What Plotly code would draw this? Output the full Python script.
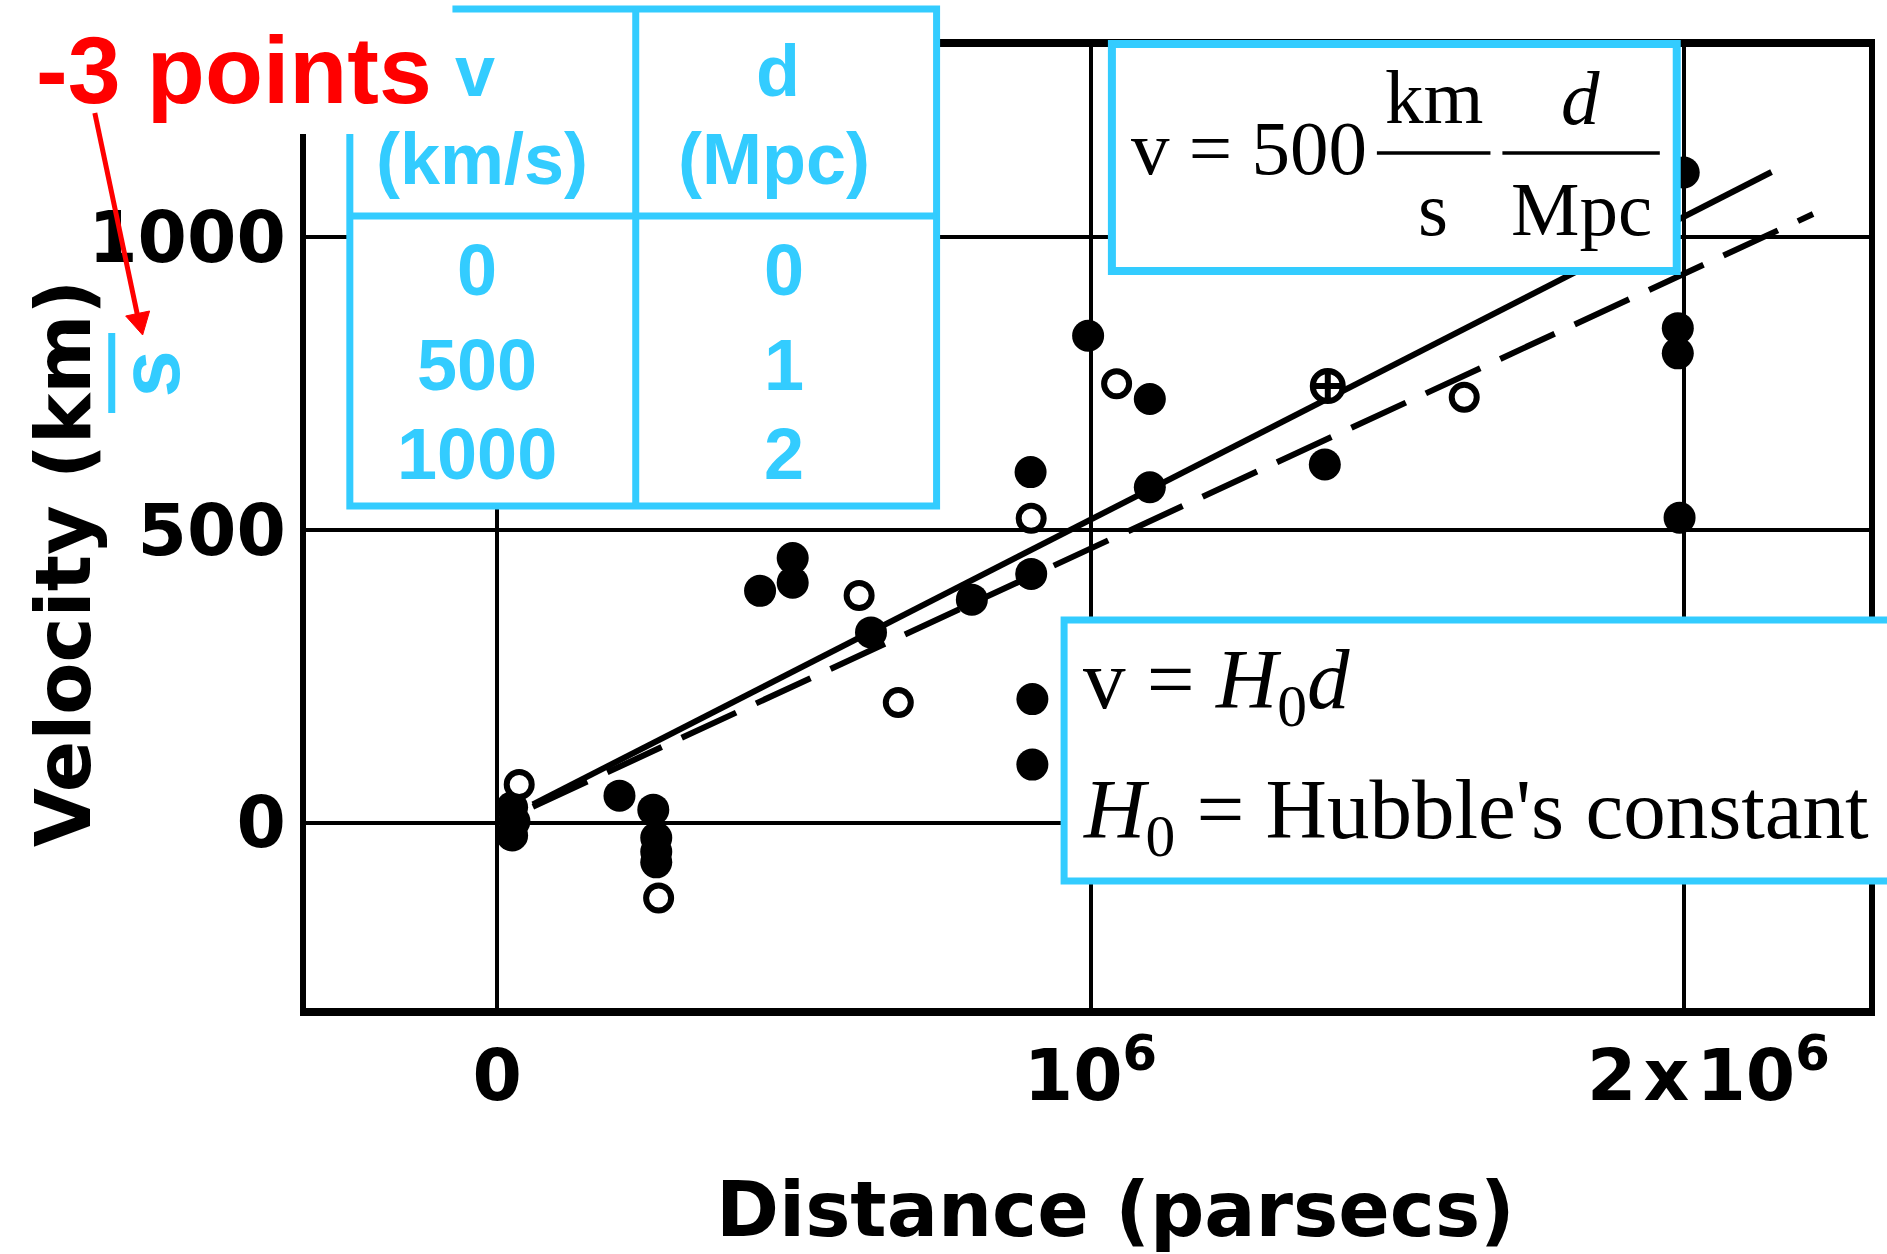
import plotly.graph_objects as go

# Hubble diagram: radial velocity (km/s) against distance (parsecs)
filled_dist = [0.025e6, 0.029e6, 0.025e6, 0.206e6, 0.263e6, 0.268e6, 0.268e6, 0.268e6,
               0.443e6, 0.498e6, 0.498e6, 0.630e6, 0.800e6, 0.899e6, 0.900e6, 0.902e6,
               0.902e6, 0.996e6, 1.100e6, 1.100e6, 1.395e6, 2.000e6, 1.990e6, 1.990e6,
               1.993e6]
filled_vel = [26, 2, -22, 46, 22, -26, -50, -68,
              396, 452, 410, 325, 381, 599, 425, 211,
              99, 832, 724, 573, 612, 1111, 845, 802,
              521]
open_dist = [0.037e6, 0.272e6, 0.610e6, 0.676e6, 0.900e6, 1.044e6, 1.630e6]
open_vel = [65, -129, 388, 205, 520, 750, 727]
cross_dist = [1.400e6]
cross_vel = [746]

solid_fit_dist = [0.06e6, 2.148e6]
solid_fit_vel = [31, 1112]
dashed_fit_dist = [0.06e6, 2.218e6]
dashed_fit_vel = [27, 1040]

x_tick_vals = [0, 1e6, 2e6]
x_tick_text = ["0", "10<sup>6</sup>", "\u00a0\u00a02\u200ax\u200a10<sup>6</sup>"]
y_tick_vals = [0, 500, 1000]
y_tick_text = ["0", "500", "1000"]

table_header = ["v", "d"]
table_units = ["(km/s)", "(Mpc)"]
table_v = ["0", "500", "1000"]
table_d = ["0", "1", "2"]

# ---- page geometry (pixels) ----
W, H = 1887, 1254
L, R, T, B = 306, 1875, 47, 1008
CYAN = "#33CCFF"
SCAN_FONT = "DejaVu Sans"
SANS = "Liberation Sans, Arial, sans-serif"
SERIF = "Liberation Serif, Times New Roman, serif"


def px(x):
    return (x - L) / (R - L)


def py(y):
    return (B - y) / (B - T)


fig = go.Figure()

fig.add_trace(go.Scatter(x=solid_fit_dist, y=solid_fit_vel, mode="lines",
                         line=dict(color="black", width=6), hoverinfo="skip"))
fig.add_trace(go.Scatter(x=dashed_fit_dist, y=dashed_fit_vel, mode="lines",
                         line=dict(color="black", width=6, dash="60px,22px"),
                         hoverinfo="skip"))
fig.add_trace(go.Scatter(x=filled_dist, y=filled_vel, mode="markers",
                         marker=dict(symbol="circle", size=32, color="black",
                                     line=dict(width=0))))
fig.add_trace(go.Scatter(x=open_dist, y=open_vel, mode="markers",
                         marker=dict(symbol="circle", size=25, color="white",
                                     line=dict(width=6, color="black"))))
fig.add_trace(go.Scatter(x=cross_dist, y=cross_vel, mode="markers",
                         marker=dict(symbol="circle-cross", size=30, color="white",
                                     line=dict(width=6, color="black"))))

axis_common = dict(showgrid=True, gridcolor="black", gridwidth=4, zeroline=False,
                   showline=True, linecolor="black", mirror=True, ticks="",
                   fixedrange=True,
                   tickfont=dict(family=SCAN_FONT, size=71, color="black",
                                 weight="bold"))

fig.update_layout(
    width=W, height=H,
    margin=dict(l=L, r=W - R, t=T, b=H - B, pad=0),
    paper_bgcolor="white", plot_bgcolor="white", showlegend=False,
    xaxis=dict(range=[-0.3224e6, 2.3123e6], tickvals=x_tick_vals, ticktext=x_tick_text,
               linewidth=8, ticklabelstandoff=-1, **axis_common),
    yaxis=dict(range=[-317, 1325.6], tickvals=y_tick_vals, ticktext=y_tick_text,
               linewidth=6, ticklabelstandoff=0, **axis_common),
)

shapes = []


def rect(x0, y0, x1, y1, line_color=None, line_width=0, fill="white"):
    shapes.append(dict(type="rect", xref="paper", yref="paper", layer="above",
                       x0=px(x0), x1=px(x1), y0=py(y1), y1=py(y0),
                       fillcolor=fill,
                       line=dict(color=line_color or fill, width=line_width)))


def seg(x0, y0, x1, y1, color, width):
    shapes.append(dict(type="line", xref="paper", yref="paper", layer="above",
                       x0=px(x0), x1=px(x1), y0=py(y0), y1=py(y1),
                       line=dict(color=color, width=width)))


# distance/velocity conversion table
rect(350, 9, 939, 506, CYAN, 7)
seg(637, 9, 637, 506, CYAN, 7)
seg(350, 216, 939, 216, CYAN, 7)
# white patch behind the red note
rect(-10, -10, 453, 134)
# top-right formula box
rect(1115, 44, 1682, 271, CYAN, 8)
seg(1381, 153, 1495, 153, "black", 3.5)
seg(1507, 153, 1665, 153, "black", 3.5)
# Hubble's law box
rect(1067, 620, 1900, 881, CYAN, 7)
# "/s" correction bar on the velocity label
seg(111, 333, 111, 413, CYAN, 7)
# red arrow
seg(94, 113, 137, 316, "red", 5)
head = [(142, 335), (149, 311), (125, 316)]
shapes.append(dict(type="path", xref="paper", yref="paper", layer="above",
                   path="M {} {} L {} {} L {} {} Z".format(
                       *[v for p in head for v in (px(p[0]), py(p[1]))]),
                   fillcolor="red", line=dict(color="red", width=1)))
fig.update_layout(shapes=shapes)


def note(text, x, y, size, family, color="black", xanchor="center",
         angle=0, weight="normal"):
    fig.add_annotation(text=text, x=px(x), y=py(y), xref="paper", yref="paper",
                       showarrow=False, xanchor=xanchor, yanchor="middle",
                       textangle=angle, borderpad=0,
                       font=dict(family=family, size=size, color=color, weight=weight))


# axis titles
note("Velocity (km)", 62, 563, 76, SCAN_FONT, angle=-90, weight="bold")
note("Distance (parsecs)", 1119, 1209, 76, SCAN_FONT, weight="bold")
note("s", 148, 374, 85, SANS, color=CYAN, angle=-90, weight="bold")

# red note
note("-3 points", 34, 70, 95, SANS, color="red", xanchor="left", weight="bold")

# table text
col_x = [478, 786]
note(table_header[0], 476, 71, 72, SANS, CYAN, weight="bold")
note(table_header[1], 780, 71, 72, SANS, CYAN, weight="bold")
note(table_units[0], 483, 159, 72, SANS, CYAN, weight="bold")
note(table_units[1], 776, 159, 72, SANS, CYAN, weight="bold")
for i, yc in enumerate([270, 365, 454]):
    note(table_v[i], col_x[0], yc, 72, SANS, CYAN, weight="bold")
    note(table_d[i], col_x[1], yc, 72, SANS, CYAN, weight="bold")

# v = 500 (km/s)(d/Mpc)
note("v = 500", 1133, 148, 77, SERIF, xanchor="left")
note("km", 1438, 97, 77, SERIF)
note("s", 1437, 209, 77, SERIF)
note("<i>d</i>", 1585, 98, 77, SERIF)
note("Mpc", 1586, 209, 77, SERIF)

# Hubble's law
note("v = <i>H</i><sub>0</sub><i>d</i>", 1085, 685, 85, SERIF, xanchor="left")
note("<i>H</i><sub>0</sub> = Hubble's constant", 1085, 815, 85, SERIF, xanchor="left")

fig.write_html("out.html")
